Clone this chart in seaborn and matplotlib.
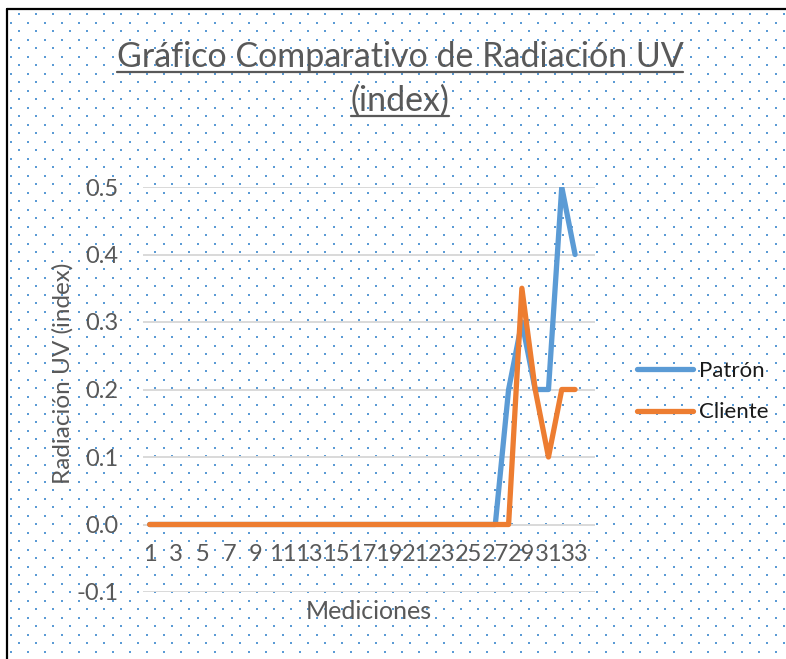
import matplotlib
matplotlib.use("Agg")
import matplotlib.pyplot as plt
from matplotlib.patches import Rectangle
from matplotlib.lines import Line2D
import pandas as pd
import seaborn as sns

# Datos
mediciones = list(range(1, 34))
patron = [0.0, 0.0, 0.0, 0.0, 0.0, 0.0, 0.0, 0.0, 0.0, 0.0,
          0.0, 0.0, 0.0, 0.0, 0.0, 0.0, 0.0, 0.0, 0.0, 0.0,
          0.0, 0.0, 0.0, 0.0, 0.0, 0.0, 0.0, 0.2, 0.3, 0.2,
          0.2, 0.5, 0.4]
cliente = [0.0, 0.0, 0.0, 0.0, 0.0, 0.0, 0.0, 0.0, 0.0, 0.0,
           0.0, 0.0, 0.0, 0.0, 0.0, 0.0, 0.0, 0.0, 0.0, 0.0,
           0.0, 0.0, 0.0, 0.0, 0.0, 0.0, 0.0, 0.0, 0.35, 0.2,
           0.1, 0.2, 0.2]
series = ["Patrón", "Cliente"]
ticks_y = [-0.1, 0.0, 0.1, 0.2, 0.3, 0.4, 0.5]
ticks_x = [1, 3, 5, 7, 9, 11, 13, 15, 17, 19, 21, 23, 25, 27, 29, 31, 33]

df = pd.DataFrame({
    "Medición": mediciones + mediciones,
    "Radiación": patron + cliente,
    "Serie": [series[0]] * len(mediciones) + [series[1]] * len(mediciones),
})

sns.set_theme(style="white")
plt.rcParams["font.family"] = ["Lato", "DejaVu Sans"]
plt.rcParams["axes.unicode_minus"] = False

W, H = 786, 659
fig = plt.figure(figsize=(W / 100, H / 100), dpi=100)

# Fondo: recuadro blanco con puntos azules y borde
bg = fig.add_axes([0, 0, 1, 1], zorder=0)
bg.set_xlim(0, W)
bg.set_ylim(H, 0)
bg.axis("off")
bg.add_patch(Rectangle((7, 9), W - 7, H - 9, fc="white", ec="none", zorder=1))
xs, ys = [], []
r = 0
y = 14.0
while y < H:
    x = 2.0 if r % 2 == 0 else 10.5
    while x < W:
        if x > 9:
            xs.append(x)
            ys.append(y)
        x += 17
    r += 1
    y += 8.5
bg.scatter(xs, ys, s=3, marker="s", c="#5b9bd5", linewidths=0, zorder=2)
bg.plot([7, 7], [9, H], color="black", lw=1.6, zorder=3)
bg.plot([7, W], [9, 9], color="black", lw=1.6, zorder=3)

# Gráfico principal
ax = fig.add_axes([143 / W, 1 - 592 / H, 452 / W, 405 / H], zorder=2)
ax.patch.set_alpha(0)
sns.lineplot(data=df, x="Medición", y="Radiación", hue="Serie",
             palette=["#5b9bd5", "#ed7d31"], linewidth=3.8,
             solid_capstyle="round", solid_joinstyle="round", ax=ax)
ax.set_xlim(0.5, 34.5)
ax.set_ylim(-0.1, 0.5)
ax.set_yticks(ticks_y)
ax.set_yticklabels([f"{v:.1f}" for v in ticks_y])
ax.set_xticks(ticks_x)
ax.set_xticklabels([str(v) for v in ticks_x])
ax.grid(axis="y", color="#d9d9d9", lw=1.4)
ax.grid(axis="x", visible=False)
ax.set_axisbelow(True)
for s in ax.spines.values():
    s.set_visible(False)
ax.spines["bottom"].set_position(("data", 0))
ax.tick_params(axis="both", length=0, labelsize=17, labelcolor="#595959")
ax.tick_params(axis="x", pad=14)
ax.tick_params(axis="y", pad=18)

ax.set_xlabel("Mediciones", fontsize=18, color="#595959")
ax.xaxis.set_label_coords(0.5, -0.02)
ax.set_ylabel("Radiación UV (index)", fontsize=17.5, color="#595959")
ax.yaxis.set_label_coords(-0.153, 0.541)

handles, labels = ax.get_legend_handles_labels()
ax.get_legend().remove()
fig.legend(handles, labels, loc="center left",
           bbox_to_anchor=(637 / W, 1 - 391.5 / H), frameon=False,
           fontsize=16, handlelength=2.5, handletextpad=0.3,
           labelspacing=0.98, borderpad=0, borderaxespad=0,
           labelcolor="#1a1a1a")

# Título subrayado en dos líneas
t1 = fig.text(400 / W, 1 - 67 / H, "Gráfico Comparativo de Radiación UV",
              fontsize=24.5, color="#595959", ha="center", va="baseline")
t2 = fig.text(400 / W, 1 - 111 / H, "(index)",
              fontsize=24.5, color="#595959", ha="center", va="baseline")
fig.canvas.draw()
rend = fig.canvas.get_renderer()
for t, yb in [(t1, 67), (t2, 111)]:
    bb = t.get_window_extent(rend)
    yl = 1 - (yb + 5) / H
    fig.add_artist(Line2D([bb.x0 / W, bb.x1 / W], [yl, yl],
                          color="#595959", lw=1.6))

fig.savefig("out.png", dpi=100)
